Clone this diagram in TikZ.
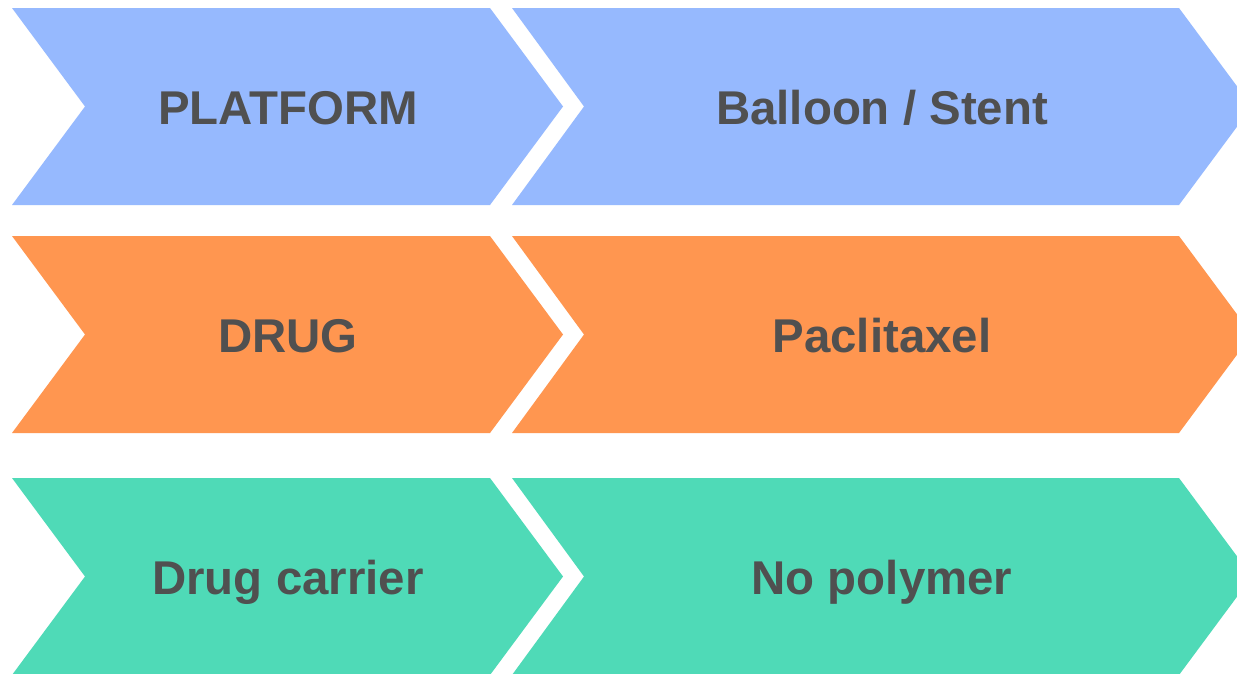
\documentclass[tikz,border=0pt]{standalone}
\usepackage{fontspec}
\setmainfont{Liberation Sans}
\definecolor{cblue}{HTML}{96B9FE}
\definecolor{corange}{HTML}{FF9650}
\definecolor{cteal}{HTML}{4FDAB7}
\definecolor{ctext}{HTML}{505050}
\tikzset{
  lbl/.style={text=ctext, font=\fontsize{47.4}{50}\selectfont\bfseries, anchor=base, inner sep=0pt},
}
\begin{document}
\begin{tikzpicture}[x=1pt,y=-1pt]
\useasboundingbox (0,0) rectangle (1237,673);
\clip (0,0) rectangle (1237,673);
\fill[white] (0,0) rectangle (1237,673);
\foreach \t/\c/\a/\b/\n in {8/cblue/PLATFORM/{Balloon / Stent}/r1, 236/corange/DRUG/Paclitaxel/r2, 478/cteal/Drug carrier/No polymer/r3}{
  \fill[\c] (12,\t) -- (490,\t) -- (563,\t+98.5) -- (490,\t+197) -- (12,\t+197) -- (85,\t+98.5) -- cycle;
  \fill[\c] (512,\t) -- (1179,\t) -- (1252,\t+98.5) -- (1179,\t+197) -- (512,\t+197) -- (584,\t+98.5) -- cycle;
  \node[lbl] (\n a) at (288,\t+116) {\a};
  \node[lbl] (\n b) at (882,\t+116) {\b};
}
\end{tikzpicture}
\end{document}
